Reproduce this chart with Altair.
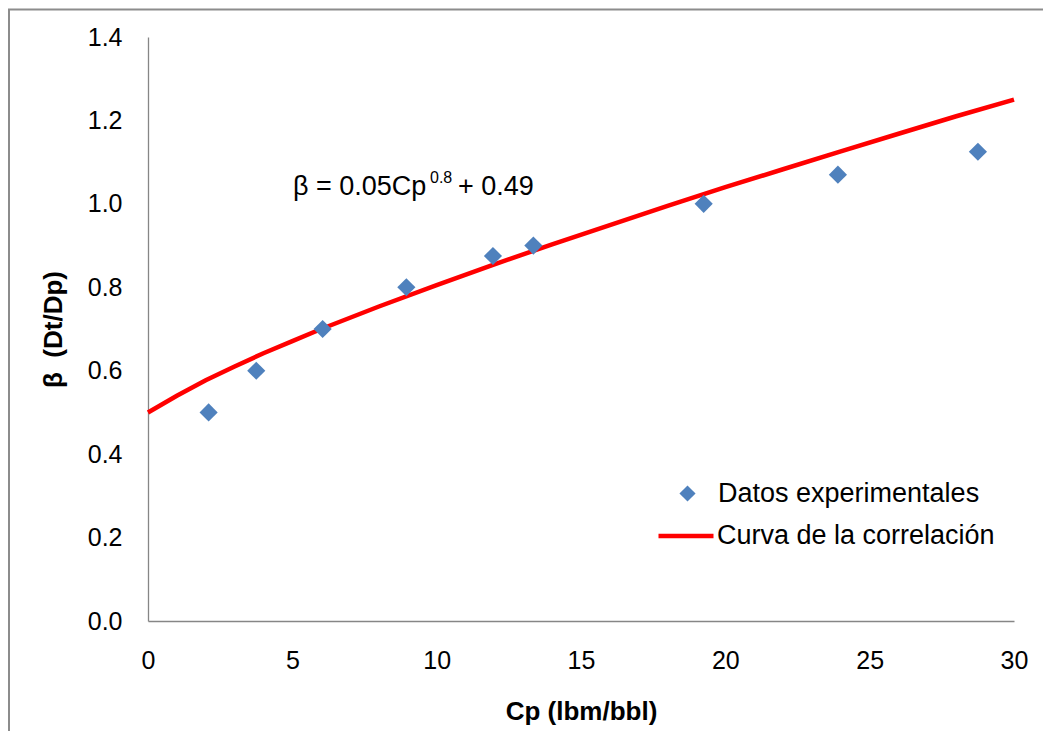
import altair as alt
import pandas as pd

cp_exp = [2.1, 3.75, 6.05, 8.95, 11.95, 13.35, 19.25, 23.9, 28.75]
beta_exp = [0.50, 0.60, 0.70, 0.80, 0.875, 0.90, 1.00, 1.07, 1.125]

# Correlation curve
cp_curve = [0, 1, 2, 3, 4, 5, 6, 8, 10, 12, 14, 16, 18, 20, 22, 24, 26, 28, 30]
beta_curve = [0.50, 0.54, 0.577, 0.61, 0.642, 0.671, 0.70, 0.754, 0.805, 0.855,
              0.903, 0.949, 0.995, 1.04, 1.083, 1.126, 1.168, 1.21, 1.25]

x_ticks = [0, 5, 10, 15, 20, 25, 30]
y_ticks = [0.0, 0.2, 0.4, 0.6, 0.8, 1.0, 1.2, 1.4]

series_exp = "Datos experimentales"
series_curve = "Curva de la correlación"

FONT = "Liberation Sans"

pts = pd.DataFrame({"Cp": cp_exp, "beta": beta_exp, "serie": series_exp})
crv = pd.DataFrame({"Cp": cp_curve, "beta": beta_curve, "serie": series_curve})
one = pd.DataFrame({"k": [0]})

x_enc = alt.X("Cp:Q",
              scale=alt.Scale(domain=[0, 30], nice=False, zero=False),
              axis=alt.Axis(values=x_ticks, title="Cp (lbm/bbl)", format="d",
                            labelFlush=False, labelPadding=27, titlePadding=25))
y_enc = alt.Y("beta:Q",
              scale=alt.Scale(domain=[0, 1.4], nice=False),
              axis=alt.Axis(values=y_ticks, title="β\u00a0\u00a0(Dt/Dp)", format=".1f",
                            labelFlush=False, labelPadding=26, titlePadding=21))

line = alt.Chart(crv).mark_line(strokeWidth=4.5, clip=False).encode(
    x=x_enc, y=y_enc,
    stroke=alt.Stroke("serie:N",
                      scale=alt.Scale(domain=[series_curve], range=["#FF0000"]),
                      legend=alt.Legend(title=None, orient="none", legendX=508, legendY=469,
                                        symbolType="stroke", symbolSize=3025,
                                        symbolStrokeWidth=4.5, labelOffset=1,
                                        labelFont=FONT, labelFontSize=27, labelLimit=0,
                                        labelColor="black", padding=0)),
)

points = alt.Chart(pts).mark_point(shape="diamond", filled=True, size=330, opacity=1).encode(
    x="Cp:Q", y="beta:Q",
    fill=alt.Fill("serie:N",
                  scale=alt.Scale(domain=[series_exp], range=["#4F81BD"]),
                  legend=alt.Legend(title=None, orient="none", legendX=526, legendY=443,
                                    symbolType="diamond", symbolSize=260,
                                    symbolStrokeWidth=0, labelOffset=17,
                                    labelFont=FONT, labelFontSize=27, labelLimit=0,
                                    labelColor="black", padding=0)),
)

eq_main = alt.Chart(one).mark_text(text="β = 0.05Cp", align="left", baseline="alphabetic",
                                   font=FONT, fontSize=27, color="black").encode(
    x=alt.value(145), y=alt.value(158))
eq_sup = alt.Chart(one).mark_text(text="0.8", align="left", baseline="alphabetic",
                                  font=FONT, fontSize=16, color="black").encode(
    x=alt.value(282), y=alt.value(146))
eq_end = alt.Chart(one).mark_text(text="+ 0.49", align="left", baseline="alphabetic",
                                  font=FONT, fontSize=27, color="black").encode(
    x=alt.value(310), y=alt.value(158))

border_v = alt.Chart(one).mark_rule(color="#8c8c8c", strokeWidth=2).encode(
    x=alt.value(-139), y=alt.value(-28), y2=alt.value(800))
border_h = alt.Chart(one).mark_rule(color="#8c8c8c", strokeWidth=2).encode(
    x=alt.value(-140), x2=alt.value(1000), y=alt.value(-27.5))

chart = alt.layer(line, points, eq_main, eq_sup, eq_end, border_v, border_h).resolve_scale(
    fill="independent", stroke="independent"
).properties(
    width=866, height=584,
    autosize=alt.AutoSizeParams(type="none"),
    padding={"left": 140, "top": 29, "right": 29, "bottom": 110},
    background="white",
).configure_view(stroke=None).configure_axis(
    grid=False, ticks=False, domainColor="#868686", domainWidth=1.3,
    labelFont=FONT, labelFontSize=25, labelColor="black",
    titleFont=FONT, titleFontSize=26, titleFontWeight="bold", titleColor="black",
)

chart.save("out.html", embed_options={"renderer": "svg", "actions": False})
